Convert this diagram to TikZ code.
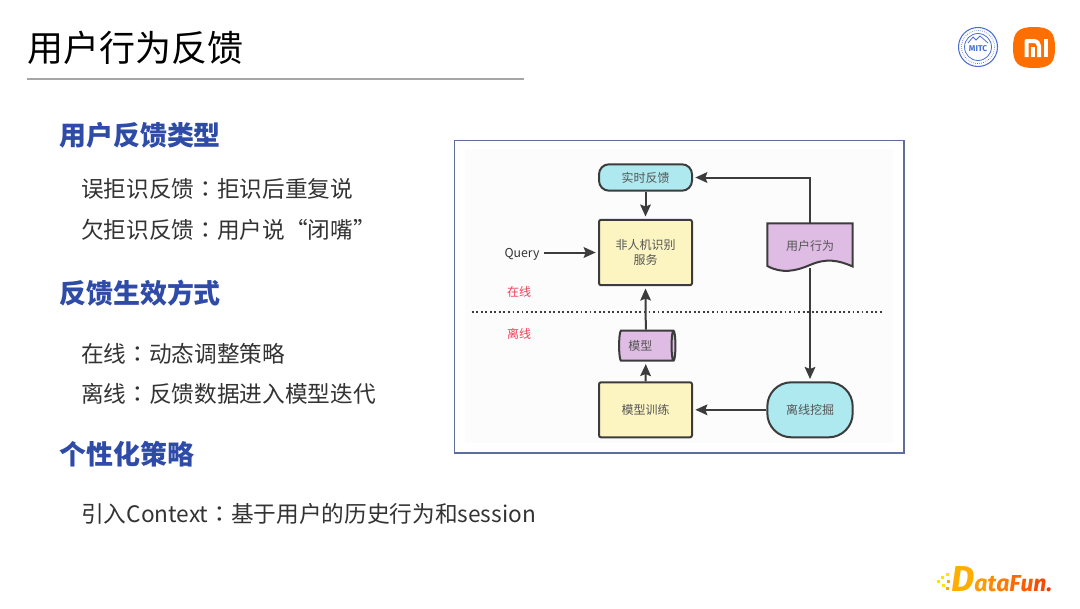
\documentclass[tikz,border=0pt]{standalone}
\usepackage{fontspec}
\setmainfont{Noto Sans CJK SC}
\newfontfamily\tcfont{Noto Sans CJK TC}
\newfontfamily\logofont{Fira Sans}
\newcommand{\cc}{{\tcfont ：}}
\usetikzlibrary{shapes.geometric,arrows.meta,calc}
\definecolor{bodytxt}{HTML}{333333}
\definecolor{headblue}{HTML}{2F4BA8}
\definecolor{framec}{HTML}{5F6D9E}
\definecolor{linec}{HTML}{3C3C3C}
\definecolor{diagtxt}{HTML}{555555}
\definecolor{yel}{HTML}{FCF5C2}
\definecolor{cyanf}{HTML}{AEE9EF}
\definecolor{purp}{HTML}{DFBCE4}
\definecolor{redt}{HTML}{F4405A}
\definecolor{mitc}{HTML}{4A6FD0}
\definecolor{miorange}{HTML}{FF6F00}
\tikzset{
  x=0.75pt,y=-0.75pt,
  titletxt/.style={anchor=west,inner sep=0,font=\fontsize{27}{27}\selectfont,text=black},
  headtxt/.style={anchor=west,inner sep=0,font=\fontsize{20.2}{20}\selectfont\bfseries,text=headblue},
  bodyline/.style={anchor=west,inner sep=0,font=\fontsize{17}{17}\selectfont,text=bodytxt},
  boxbase/.style={draw=linec,line width=1.5pt,text=diagtxt,font=\fontsize{9}{11.25}\selectfont,align=center,inner sep=0},
  yelbox/.style={boxbase,fill=yel,rectangle,rounded corners=1.5pt,minimum width=69.75pt,anchor=center},
  pill/.style={boxbase,fill=cyanf,rectangle,rounded corners=7.5pt,minimum width=69.75pt,minimum height=19.8pt},
  minebox/.style={boxbase,fill=cyanf,rectangle,rounded corners=18pt,minimum width=64pt,minimum height=41.25pt},
  cyl/.style={boxbase,cylinder,shape aspect=0.35,cylinder uses custom fill,cylinder body fill=purp,cylinder end fill=purp,minimum width=22.5pt,minimum height=42.25pt},
  ghost/.style={inner sep=0,text=diagtxt,font=\fontsize{9}{11.25}\selectfont,minimum width=64pt,minimum height=33.75pt},
  flow/.style={draw=linec,line width=1.5pt,shorten >=1.75pt,-{Stealth[length=9pt,width=8pt,inset=1.5pt]}},
  redlabel/.style={inner sep=0,text=redt,font=\fontsize{9}{10}\selectfont},
}
\begin{document}
\begin{tikzpicture}
\useasboundingbox (0,0) rectangle (1080,608);
\fill[white] (0,0) rectangle (1080,608);
% title
\node[titletxt] (title) at (27,48) {用户行为反馈};
\draw[draw=black!35,line width=0.9pt] (27,79) -- (524,79);
% text
\node[headtxt] (h1) at (59,135) {用户反馈类型};
\node[bodyline] (b1) at (81,189) {误拒识反馈\cc 拒识后重复说};
\node[bodyline] (b2) at (81,230) {欠拒识反馈\cc 用户说“闭嘴”};
\node[headtxt] (h2) at (59,293) {反馈生效方式};
\node[bodyline] (b3) at (81,354) {在线\cc 动态调整策略};
\node[bodyline] (b4) at (81,394) {离线\cc 反馈数据进入模型迭代};
\node[headtxt] (h3) at (59,454) {个性化策略};
\node[bodyline] (b5) at (81,514) {引入Context\cc 基于用户的历史行为和session};
% frame
\draw[draw=framec,line width=0.9pt,fill=white] (454.7,140.7) rectangle (904,453);
\fill[black!1] (465,149) rectangle (893,443);
% diagram
\node[pill] (rt) at (645.5,177.5) {实时反馈};
\node[yelbox,minimum height=49pt] (svc) at (645.5,252.5) {非人机识别\\服务};
\node[yelbox,minimum height=41.25pt] (train) at (645.5,409.8) {模型训练};
\node[minebox] (mine) at (810,409.8) {离线挖掘};
\node[cyl] (model) at (645.8,345.7) {模型\hspace{8pt}};
\draw[draw=linec,line width=1.5pt,fill=purp]
  (767.3,223.3) -- (852.7,223.3) -- (852.7,266.5)
  .. controls (838,260) and (826,258) .. (810,265)
  .. controls (796,271) and (782,274) .. (767.3,266) -- cycle;
\node[ghost] (user) at (810,245.5) {用户行为};
\node[inner sep=0,text=bodytxt,font=\fontsize{9.2}{10}\selectfont,text height=9.8pt,text depth=3pt] (query) at (522,252.5) {Query};
\node[redlabel] (on) at (519,292) {在线};
\node[redlabel] (off) at (519,334) {离线};
\coordinate (dotL) at (471.7,312);
\coordinate (dotR) at (883,312);
\draw[draw=linec,line width=1.4pt,dash pattern=on 1.4pt off 2pt] (dotL) -- (dotR);
% connectors
\draw[flow] (rt) -- (svc);
\draw[flow] ([xshift=3pt]query.east) -- (svc.west);
\draw[flow] (model.north) -- (svc.south);
\draw[flow] (train.north) -- (model.south);
\draw[flow] (mine.west) -- (train.east);
\draw[flow] (user.north) |- (rt.east);
\draw[flow] (user.south) -- (mine.north);
% MITC logo
\draw[mitc,line width=0.8pt] (978,47) circle (19.5);
\draw[mitc,line width=0.5pt,densely dotted] (978,47) circle (16.5);
\draw[mitc,line width=0.6pt] (978,47) circle (13.5);
\draw[mitc,line width=0.6pt] (968,43) -- (973,37) -- (976,40) -- (980,36) -- (988,43);
\node[inner sep=0,text=mitc,font=\logofont\bfseries\fontsize{6.3}{7}\selectfont] (mitclogo) at (978,49) {MITC};
% Xiaomi logo
\fill[miorange] (1013,48) .. controls (1013,32) and (1018,27) .. (1034,27)
  .. controls (1050,27) and (1055,32) .. (1055,48)
  .. controls (1055,63) and (1050,68) .. (1034,68)
  .. controls (1018,68) and (1013,63) .. (1013,48) -- cycle;
\draw[white,line width=3pt,line join=round] (1026.5,57) -- (1026.5,41) -- (1033,41)
  .. controls (1037,41) and (1039,43) .. (1039,46) -- (1039,57);
\draw[white,line width=3pt] (1032.8,47) -- (1032.8,57);
\draw[white,line width=3pt] (1045.5,39) -- (1045.5,57);
% DataFun logo
\fill[yellow!85!orange] (937,580) rectangle +(3,3);
\fill[yellow!85!orange] (941,576) rectangle +(3,3);
\fill[yellow!85!orange] (946,573) rectangle +(3,3);
\fill[yellow!85!orange] (942,584) rectangle +(3,3);
\fill[orange!70!yellow] (947,580) rectangle +(3,3);
\fill[orange!70!yellow] (946,587) rectangle +(3,3);
\node[anchor=base west,inner sep=0,font=\logofont\bfseries\itshape\fontsize{17.3}{18}\selectfont] (dfun) at (951,591)
 {\textcolor[HTML]{FFAE00}{\fontsize{27}{27}\selectfont D}\textcolor[HTML]{FF9A00}{a}\textcolor[HTML]{FF8A00}{t}\textcolor[HTML]{FF7A00}{a}\textcolor[HTML]{FF6A00}{F}\textcolor[HTML]{FF5A00}{u}\textcolor[HTML]{F84A00}{n}\textcolor[HTML]{F03A00}{.}};
\end{tikzpicture}
\end{document}
